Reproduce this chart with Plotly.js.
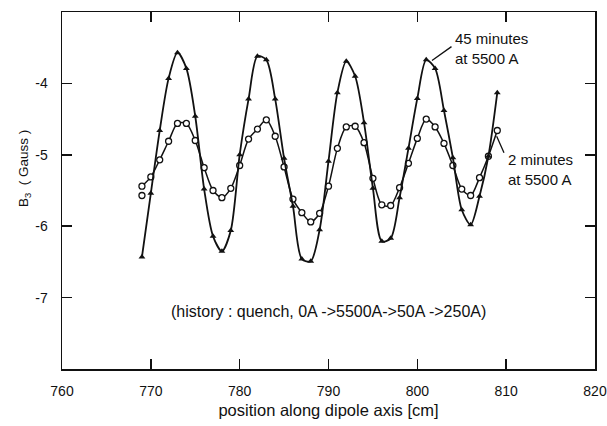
<!DOCTYPE html>
<html>
<head>
<meta charset="utf-8">
<script src="https://cdn.plot.ly/plotly-3.0.1.min.js"></script>
<style>html,body{margin:0;padding:0;background:#fff;}#chart{width:607px;height:426px;}</style>
</head>
<body>
<div id="chart"></div>
<script>
// position along dipole axis [cm]
const positions = [769,770,771,772,773,774,775,776,777,778,779,780,781,782,783,784,785,786,787,788,789,790,791,792,793,794,795,796,797,798,799,800,801,802,803,804,805,806,807,808,809];
// 45 minutes at 5500 A (filled triangles)
const b3_45min = [-6.43,-5.54,-4.66,-3.93,-3.57,-3.79,-4.46,-5.48,-6.14,-6.35,-6.06,-5.00,-4.22,-3.62,-3.67,-4.22,-5.05,-5.72,-6.46,-6.49,-6.05,-5.09,-4.13,-3.69,-3.90,-4.55,-5.47,-6.21,-6.17,-5.60,-4.91,-4.21,-3.67,-3.79,-4.38,-5.04,-5.77,-5.98,-5.58,-5.02,-4.13];
// 2 minutes at 5500 A (open circles)
const b3_2min = [-5.44,-5.31,-5.07,-4.81,-4.56,-4.56,-4.80,-5.18,-5.50,-5.60,-5.47,-5.15,-4.78,-4.64,-4.51,-4.74,-5.17,-5.62,-5.81,-5.94,-5.82,-5.44,-4.91,-4.61,-4.60,-4.83,-5.33,-5.70,-5.71,-5.46,-5.12,-4.77,-4.50,-4.61,-4.84,-5.15,-5.48,-5.57,-5.32,-5.02,-4.66];
// extra repeated reading at the start
const extraX = [769];
const extraY = [-5.57];

const xTicks = [760,770,780,790,800,810,820];
const xTickText = ['760','770','780','790','800','810','820'];
const yTicks = [-7,-6,-5,-4];
const yTickText = ['-7','-6','-5','-4'];

const FONT = 'Liberation Sans, Arial, sans-serif';
const INK = '#111';

const traces = [
  {x: positions, y: b3_2min, mode: 'lines+markers', type: 'scatter',
   line: {color: INK, width: 1.5, shape: 'spline', smoothing: 0.8},
   marker: {symbol: 'circle', size: 6, color: '#fff', line: {color: INK, width: 1.3}}},
  {x: positions, y: b3_45min, mode: 'lines+markers', type: 'scatter',
   line: {color: INK, width: 1.8, shape: 'spline', smoothing: 0.8},
   marker: {symbol: 'triangle-up', size: 6, color: INK}},
  {x: extraX, y: extraY, mode: 'markers', type: 'scatter',
   marker: {symbol: 'circle', size: 6, color: '#fff', line: {color: INK, width: 1.3}}}
];

const layout = {
  width: 607, height: 426,
  margin: {l: 62, r: 12, t: 12, b: 57},
  paper_bgcolor: '#fff', plot_bgcolor: '#fff',
  showlegend: false,
  font: {family: FONT, color: INK, size: 14},
  xaxis: {
    range: [760, 820], tickvals: xTicks, ticktext: xTickText,
    ticks: 'inside', ticklen: 10, tickwidth: 1.5, tickcolor: INK,
    showline: true, linecolor: INK, linewidth: 1.5, mirror: 'ticks',
    showgrid: false, zeroline: false, ticklabelstandoff: 9,
    tickfont: {family: FONT, size: 14, color: INK},
    title: {text: 'position along dipole axis [cm]', font: {family: FONT, size: 16.5, color: INK}, standoff: 6}
  },
  yaxis: {
    range: [-8, -3], tickvals: yTicks, ticktext: yTickText,
    ticks: 'inside', ticklen: 10, tickwidth: 1.5, tickcolor: INK,
    showline: true, linecolor: INK, linewidth: 1.5, mirror: 'ticks',
    showgrid: false, zeroline: false, ticklabelstandoff: 10,
    tickfont: {family: FONT, size: 14, color: INK}
  },
  annotations: [
    {xref: 'paper', yref: 'paper', x: 0, y: 0.56, xshift: -38, textangle: -90,
     text: 'B<sub>3</sub>  ( Gauss )', showarrow: false, xanchor: 'center', yanchor: 'middle',
     font: {family: FONT, size: 13.5, color: INK}},
    {xref: 'x', yref: 'y', x: 801.65, y: -3.68, ax: 21, ay: -15, text: '', showarrow: true,
     arrowhead: 0, arrowwidth: 1.3, arrowcolor: INK, standoff: 0, startstandoff: 0},
    {xref: 'paper', yref: 'paper', x: 0.7336, y: 0.899, xanchor: 'left', yanchor: 'middle', align: 'left',
     text: '45 minutes<br>at 5500 A', showarrow: false, font: {family: FONT, size: 15, color: INK}},
    {xref: 'x', yref: 'y', x: 808.93, y: -4.74, ax: 8, ay: 18, text: '', showarrow: true,
     arrowhead: 0, arrowwidth: 1.3, arrowcolor: INK, standoff: 0, startstandoff: 0},
    {xref: 'paper', yref: 'paper', x: 0.833, y: 0.558, xanchor: 'left', yanchor: 'middle', align: 'left',
     text: '2 minutes<br>at 5500 A', showarrow: false, font: {family: FONT, size: 15, color: INK}},
    {xref: 'paper', yref: 'y', x: 0.5, y: -7.2, xanchor: 'center', yanchor: 'middle',
     text: '(history : quench, 0A ->5500A->50A ->250A)', showarrow: false,
     font: {family: FONT, size: 16, color: INK}}
  ]
};

Plotly.newPlot('chart', traces, layout, {staticPlot: true, displayModeBar: false});
</script>
</body>
</html>
